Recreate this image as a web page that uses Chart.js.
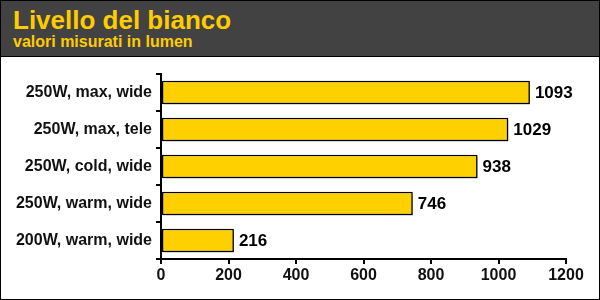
<!DOCTYPE html>
<html><head><meta charset="utf-8">
<script src="https://cdn.jsdelivr.net/npm/chart.js@4"></script>
<style>
html,body{margin:0;padding:0;background:#fff;}
#wrap{position:relative;width:600px;height:300px;overflow:hidden;}
#hdr{position:absolute;left:0;top:0;width:600px;height:57px;background:#424242;border-bottom:1px solid #000;box-sizing:border-box;z-index:2;}
#t1{position:absolute;left:13px;top:5px;line-height:1;font:bold 26px "Liberation Sans",Arial,sans-serif;color:#FFCC00;white-space:nowrap;}
#t2{position:absolute;left:13px;top:33px;line-height:1;font:bold 16px "Liberation Sans",Arial,sans-serif;color:#FFCC00;white-space:nowrap;}
#frame{position:absolute;left:0;top:0;width:600px;height:300px;border:1px solid #000;box-sizing:border-box;z-index:3;pointer-events:none;}
canvas{position:absolute;left:0;top:0;}
</style></head>
<body>
<div id="wrap">
<canvas id="c" width="600" height="300"></canvas>
<div id="hdr"><div id="t1">Livello del bianco</div><div id="t2">valori misurati in lumen</div></div>
<div id="frame"></div>
</div>
<script>
const categories = ["250W, max, wide","250W, max, tele","250W, cold, wide","250W, warm, wide","200W, warm, wide"];
const values = [1093, 1029, 938, 746, 216];
const xTicks = [0, 200, 400, 600, 800, 1000, 1200];

const FONT = '"Liberation Sans", Arial, sans-serif';
const shadowPlugin = {
  id: 'shadow',
  beforeDatasetDraw(chart){
    const ctx = chart.ctx; ctx.save();
    ctx.shadowColor = 'rgba(0,0,0,0.45)';
    ctx.shadowOffsetX = 2; ctx.shadowOffsetY = 2; ctx.shadowBlur = 2;
  },
  afterDatasetDraw(chart){ chart.ctx.restore(); }
};
const labelPlugin = {
  id: 'vlabels',
  afterDatasetsDraw(chart){
    const ctx = chart.ctx;
    const meta = chart.getDatasetMeta(0);
    ctx.save();
    ctx.font = 'bold 17px ' + FONT;
    ctx.fillStyle = '#000';
    ctx.textBaseline = 'middle';
    ctx.textAlign = 'left';
    meta.data.forEach((bar, i) => {
      ctx.fillText(String(values[i]), bar.x + 5, bar.y + 1);
    });
    ctx.restore();
  }
};

new Chart(document.getElementById('c'), {
  type: 'bar',
  data: {
    labels: categories,
    datasets: [{
      data: values,
      backgroundColor: '#FFD000',
      borderColor: '#000',
      borderWidth: 1.5,
      borderSkipped: false,
      categoryPercentage: 1,
      barPercentage: 0.64
    }]
  },
  options: {
    indexAxis: 'y',
    responsive: false,
    animation: false,
    events: [],
    layout: { padding: { top: 74, right: 34, left: 0, bottom: 0 } },
    plugins: { legend: { display: false }, tooltip: { enabled: false } },
    scales: {
      x: {
        min: 0, max: 1200,
        afterBuildTicks(scale){ scale.ticks = xTicks.map(v => ({ value: v })); },
        afterFit(scale){ scale.height = 41; },
        grid: { drawOnChartArea: false, color: '#000', tickLength: 5, lineWidth: 2 },
        border: { color: '#000', width: 2 },
        ticks: { color: '#111', padding: 2, callback: v => String(v), font: { family: FONT, size: 16, weight: 'bold' } }
      },
      y: {
        afterFit(scale){ scale.width = 161; },
        grid: { drawOnChartArea: false, color: '#000', tickLength: 5, lineWidth: 2, offset: true },
        border: { color: '#000', width: 2 },
        ticks: { color: '#111', padding: 4, font: { family: FONT, size: 16, weight: 'bold' } }
      }
    }
  },
  plugins: [shadowPlugin, labelPlugin]
});
</script>
</body></html>
